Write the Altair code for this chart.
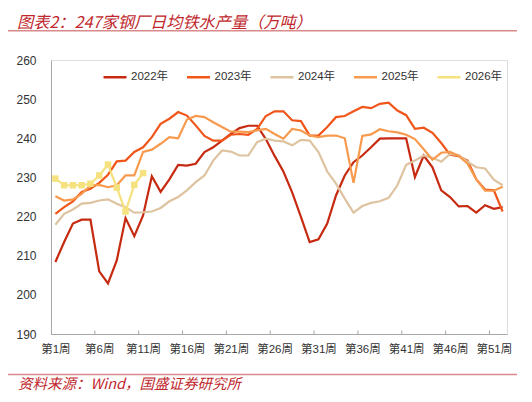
import altair as alt
import pandas as pd

years = ["2022年", "2023年", "2024年", "2025年", "2026年"]
colors = ["#C62A10", "#F0561A", "#DEC3A0", "#F89A4E", "#F5E27E"]

y2022 = [208.4, 213.5, 218.2, 219.2, 219.2, 206.0, 202.9, 208.8, 219.6, 215.0,
         220.3, 230.3, 226.3, 229.5, 233.2, 233.0, 233.5, 236.5, 237.7, 239.4,
         241.1, 242.6, 243.2, 243.2, 239.8, 235.5, 231.5, 226.2, 219.9, 213.5,
         214.2, 218.2, 225.4, 230.5, 233.9, 235.6, 237.7, 239.9, 240.0, 240.0,
         240.0, 230.1, 235.6, 232.6, 226.7, 225.0, 222.6, 222.7, 221.0, 222.9,
         222.0, 222.4]
y2023 = [220.7, 222.4, 223.9, 226.3, 227.1, 228.6, 230.7, 234.1, 234.3, 236.5,
         237.7, 240.3, 243.7, 245.0, 246.7, 245.8, 243.3, 240.6, 239.4, 239.4,
         240.9, 241.1, 240.9, 242.4, 245.7, 246.9, 246.9, 244.6, 244.4, 240.7,
         240.7, 242.9, 245.4, 245.7, 246.9, 248.0, 247.7, 248.8, 249.1, 247.1,
         245.9, 242.4, 242.7, 241.4, 238.8, 235.8, 235.4, 234.3, 229.5, 226.9,
         226.7, 221.3]
y2024 = [217.9, 220.7, 221.8, 223.3, 223.5, 224.1, 224.4, 223.3, 222.4, 221.0,
         221.1, 221.3, 222.2, 223.9, 225.0, 226.7, 228.8, 230.5, 234.3, 236.9,
         236.6, 235.6, 235.6, 239.0, 239.9, 239.4, 239.2, 238.2, 239.6, 239.4,
         236.5, 231.5, 228.4, 224.6, 221.0, 222.7, 223.5, 223.9, 224.8, 228.0,
         233.2, 234.3, 235.6, 235.0, 234.0, 236.0, 235.7, 234.0, 232.6, 232.3,
         229.4, 228.0]
y2025 = [225.2, 224.1, 224.4, 225.8, 228.0, 228.1, 227.5, 228.0, 230.5, 230.5,
         236.5, 237.1, 238.6, 240.3, 240.0, 244.8, 245.7, 245.4, 244.1, 242.9,
         241.7, 241.7, 241.6, 242.0, 242.4, 241.1, 239.9, 242.4, 242.0, 240.7,
         240.3, 240.7, 240.7, 240.0, 228.6, 240.6, 241.0, 242.3, 241.8, 241.5,
         240.9, 239.8, 237.2, 234.5, 236.3, 236.5, 235.5, 233.5, 229.5, 226.6,
         226.6, 227.6]
y2026 = [229.7, 228.0, 228.0, 228.0, 228.4, 230.5, 233.3, 227.4, 221.3, 228.1, 231.1]

label_weeks = [1, 6, 11, 16, 21, 26, 31, 36, 41, 46, 51]
tick_weeks = [5.5, 10.5, 15.5, 20.5, 25.5, 30.5, 35.5, 40.5, 45.5, 50.5]
y_ticks = [190, 200, 210, 220, 230, 240, 250, 260]

title_text = "图表2：247家钢厂日均铁水产量（万吨）"
source_text = "资料来源：Wind，国盛证券研究所"

series = dict(zip(years, [y2022, y2023, y2024, y2025, y2026]))
rows = []
for name, vals in series.items():
    for i, v in enumerate(vals):
        rows.append({"week": i + 1, "value": v, "year": name})
df = pd.DataFrame(rows)

FONT = "Liberation Sans, Noto Sans CJK SC, sans-serif"
CJK = "Noto Sans CJK SC, sans-serif"
AXC = "#A6A6A6"

x_scale = alt.Scale(domain=[0.5, 52.5], nice=False, zero=False)
y_scale = alt.Scale(domain=[190, 260], nice=False, zero=False)
color_scale = alt.Scale(domain=years, range=colors)

x_axis = alt.Axis(values=label_weeks, labelExpr="'第' + datum.value + '周'",
                  ticks=False, grid=False, domainColor=AXC, labelPadding=9,
                  labelFontSize=11.5, labelColor="#333333", labelFont=FONT,
                  labelOverlap=False, title=None)
y_axis = alt.Axis(values=y_ticks, ticks=False, grid=False, domainColor=AXC,
                  labelPadding=15, labelFontSize=12, labelColor="#333333",
                  labelFont=FONT, labelOverlap=False, labelBound=False,
                  labelFlush=False, title=None)

lines = alt.Chart(df).mark_line(strokeWidth=2.2).encode(
    x=alt.X("week:Q", scale=x_scale, axis=x_axis),
    y=alt.Y("value:Q", scale=y_scale, axis=y_axis),
    color=alt.Color("year:N", scale=color_scale, sort=years,
                    legend=alt.Legend(orient="none", direction="horizontal",
                                      legendX=51, legendY=4, title=None,
                                      symbolType="stroke", symbolSize=529,
                                      symbolStrokeWidth=2.5, labelFontSize=11.5,
                                      labelFont=FONT, labelColor="#333333",
                                      labelOffset=3, columnPadding=12.5,
                                      columns=5)),
)

points = alt.Chart(df[df["year"] == "2026年"]).mark_point(
    shape="square", filled=True, size=42, opacity=1, color="#F5E27E"
).encode(
    x=alt.X("week:Q", scale=x_scale, axis=x_axis),
    y=alt.Y("value:Q", scale=y_scale, axis=y_axis),
)

ticks = alt.Chart(pd.DataFrame({"week": tick_weeks})).mark_rule(
    color=AXC, strokeWidth=1
).encode(
    x=alt.X("week:Q", scale=x_scale, axis=x_axis),
    y=alt.value(270.5), y2=alt.value(274),
)

one = alt.Data(values=[{"a": 0}])
title = alt.Chart(one).mark_text(
    align="left", baseline="middle", fontSize=16.2, fontStyle="italic",
    font=CJK, color="#C0272D"
).encode(x=alt.value(-34), y=alt.value(-37), text=alt.value(title_text))

source = alt.Chart(one).mark_text(
    align="left", baseline="middle", fontSize=14.5, fontStyle="italic",
    font=CJK, color="#C0272D"
).encode(x=alt.value(-33), y=alt.value(324.5), text=alt.value(source_text))

top_rule = alt.Chart(one).mark_rule(color="#D98A8A", strokeWidth=1.5).encode(
    x=alt.value(-43), x2=alt.value(466), y=alt.value(-29.3))
bottom_rule = alt.Chart(one).mark_rule(color="#D98A8A", strokeWidth=1.5).encode(
    x=alt.value(-43), x2=alt.value(466), y=alt.value(314.5))

chart = alt.layer(ticks, lines, points, title, source, top_rule, bottom_rule).properties(
    width=456, height=274,
    padding={"left": 43, "top": 52, "right": 17, "bottom": 60},
    autosize=alt.AutoSizeParams(type="none"),
).configure_view(stroke=None).configure(background="white").configure_axis(
    labelOverlap=False
)

chart.save("out.html", embed_options={"renderer": "svg", "actions": False})
